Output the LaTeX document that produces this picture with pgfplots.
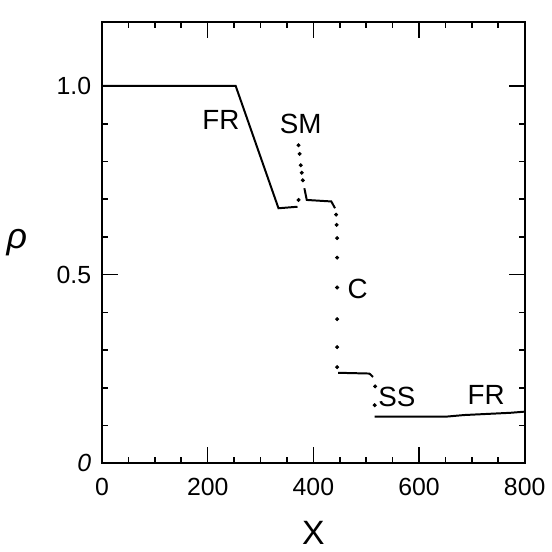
\documentclass[border=0pt]{standalone}
\usepackage{fontspec}
\setmainfont{Liberation Sans}
\usepackage{pgfplots}
\pgfplotsset{compat=1.18}

\begin{document}
\begin{tikzpicture}
\begin{axis}[
    scale only axis,
    width=213pt, height=222.5pt,
    xmin=0, xmax=800, ymin=0, ymax=1.17,
    xtick={0,200,400,600,800},
    xticklabels={0,200,400,600,800},
    ytick={0,0.5,1},
    yticklabels={\itshape 0,0.5,1.0},
    minor x tick num=3,
    minor y tick num=4,
    tick align=inside,
    major tick length=8pt,
    minor tick length=3pt,
    tick style={black, line width=0.8pt},
    axis line style={line width=1pt},
    ticklabel style={font=\fontsize{12.5}{14}\selectfont},
    xticklabel style={yshift=-4pt},
    yticklabel style={xshift=-2pt},
    xlabel={X}, ylabel={\itshape ρ},
    xlabel style={font=\fontsize{17}{20}\selectfont, yshift=-6pt},
    ylabel style={font=\fontsize{18}{20}\selectfont, rotate=-90, xshift=-8pt},
    clip=false,
]
% FR rarefaction and plateaus (solid)
\addplot[black, line width=1pt] coordinates {
    (0,1.0) (253,1.0) (334,0.676) (370,0.680)
};
\addplot[black, line width=1pt] coordinates {
    (383,0.729) (387.5,0.698) (434,0.694) (441,0.676)
};
\addplot[black, line width=1pt] coordinates {
    (447,0.240) (506,0.238) (513,0.229)
};
\addplot[black, line width=1pt] coordinates {
    (516,0.124) (653,0.124) (685,0.128) (773,0.134) (800,0.137)
};
% shock transitions (dots)
\addplot[only marks, mark=*, mark size=0.8pt, black] coordinates {
    (372,0.698) (372,0.843) (374,0.82) (376,0.79) (378,0.77) (380,0.75)
    (443,0.659) (444,0.632) (445,0.597) (445,0.545) (445,0.466)
    (445,0.382) (445,0.308) (445,0.255)
    (517,0.204) (516,0.154)
};
\node[font=\fontsize{14}{16}\selectfont] at (axis cs:225,0.91) {FR};
\node[font=\fontsize{14}{16}\selectfont] at (axis cs:376,0.90) {SM};
\node[font=\fontsize{14}{16}\selectfont] at (axis cs:484,0.463) {C};
\node[font=\fontsize{14}{16}\selectfont] at (axis cs:558,0.176) {SS};
\node[font=\fontsize{14}{16}\selectfont] at (axis cs:727,0.18) {FR};
\end{axis}
\path (current axis.south west) ++(-51pt,-42.5pt) coordinate (bbA);
\path (current axis.north east) ++(11pt,11pt) coordinate (bbB);
\path (bbA) rectangle (bbB);
\end{tikzpicture}
\end{document}
